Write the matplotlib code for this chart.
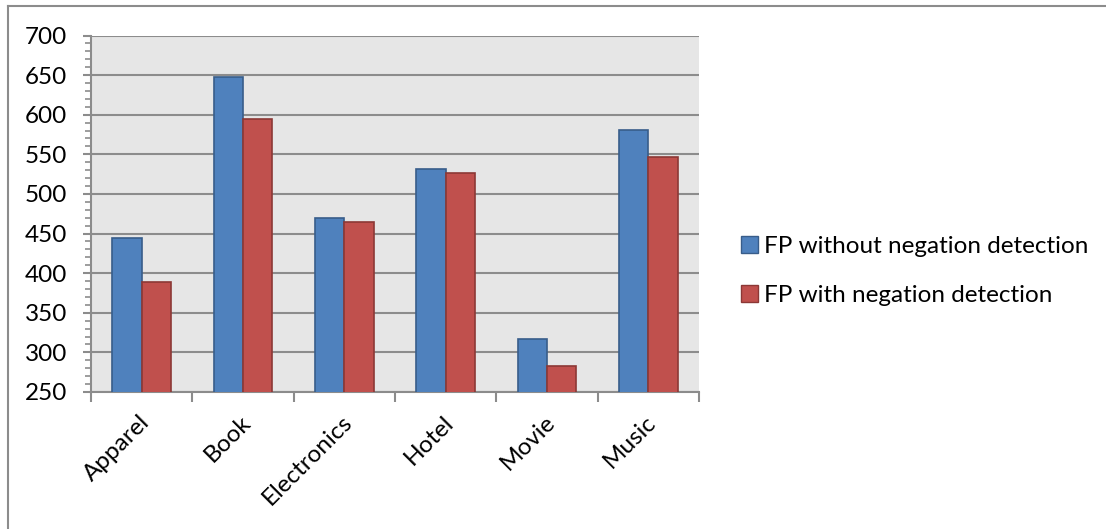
import matplotlib
matplotlib.use("Agg")
import matplotlib.pyplot as plt
import numpy as np
from matplotlib.lines import Line2D
from matplotlib.patches import Patch
from matplotlib.transforms import ScaledTranslation

categories = ["Apparel", "Book", "Electronics", "Hotel", "Movie", "Music"]
fp_without = [444, 647, 470, 531, 317, 581]
fp_with = [389, 595, 464, 527, 283, 547]
series_labels = ["FP without negation detection", "FP with negation detection"]
y_ticks = [250, 300, 350, 400, 450, 500, 550, 600, 650, 700]

plt.rcParams["font.family"] = ["Lato", "DejaVu Sans"]

W, H, DPI = 1106, 529, 100
fig = plt.figure(figsize=(W / DPI, H / DPI), dpi=DPI)
fig.patch.set_facecolor("white")

# outer chart frame (top and left edges)
fig.add_artist(Line2D([8 / W, 8 / W], [0, 1 - 6 / H], color="#8c8c8c", lw=1.5))
fig.add_artist(Line2D([8 / W, 1], [1 - 6 / H, 1 - 6 / H], color="#8c8c8c", lw=1.5))

left, right = 91 / W, 699 / W
bottom, top = 1 - 392 / H, 1 - 35.5 / H
ax = fig.add_axes([left, bottom, right - left, top - bottom])
ax.set_facecolor("#e6e6e6")

x = np.arange(len(categories))
bw = 0.29
blue, blue_edge = "#4f81bd", "#385d8a"
red, red_edge = "#c0504d", "#8c3836"
ax.bar(x - bw / 2, fp_without, bw, color=blue, edgecolor=blue_edge,
       linewidth=1.2, zorder=3, label=series_labels[0])
ax.bar(x + bw / 2, fp_with, bw, color=red, edgecolor=red_edge,
       linewidth=1.2, zorder=3, label=series_labels[1])

ax.set_xlim(-0.5, len(categories) - 0.5)
ax.set_ylim(250, 700)
ax.set_yticks(y_ticks)
ax.set_yticks(np.arange(250, 701, 10), minor=True)
ax.yaxis.grid(True, color="#8c8c8c", lw=1.5, zorder=1)
ax.set_axisbelow(True)

for s in ["top", "right"]:
    ax.spines[s].set_visible(False)
for s in ["left", "bottom"]:
    ax.spines[s].set_color("#8c8c8c")
    ax.spines[s].set_linewidth(1.5)

fs = 17.5
ax.tick_params(axis="y", which="major", direction="out", length=6, width=1.5,
               color="#8c8c8c", labelsize=fs, pad=11, labelcolor="black")
ax.tick_params(axis="y", which="minor", direction="out", length=4, width=1.2,
               color="#8c8c8c")

# category boundary ticks on the x axis
ax.set_xticks(np.arange(-0.5, len(categories) + 0.5, 1.0))
ax.set_xticklabels([])
ax.tick_params(axis="x", which="major", direction="out", length=7, width=1.5,
               color="#8c8c8c")
ax.set_xticks(x, minor=True)
ax.set_xticklabels(categories, minor=True, rotation=45, ha="right",
                   rotation_mode="anchor", fontsize=fs)
ax.tick_params(axis="x", which="minor", length=0, pad=14)

# nudge rotated category labels so their ends sit under the group centre
for lbl in ax.get_xticklabels(minor=True):
    lbl.set_transform(lbl.get_transform() + ScaledTranslation(-3 / DPI, 0, fig.dpi_scale_trans))

handles = [Patch(facecolor=blue, edgecolor=blue_edge, linewidth=1.0),
           Patch(facecolor=red, edgecolor=red_edge, linewidth=1.0)]
fig.legend(handles, series_labels, loc="center left",
           bbox_to_anchor=(731 / W, 1 - 271 / H), frameon=False, fontsize=fs,
           handlelength=0.7, handleheight=0.7, handletextpad=0.25,
           labelspacing=1.15, borderaxespad=0)

fig.savefig("out.png", dpi=DPI)
